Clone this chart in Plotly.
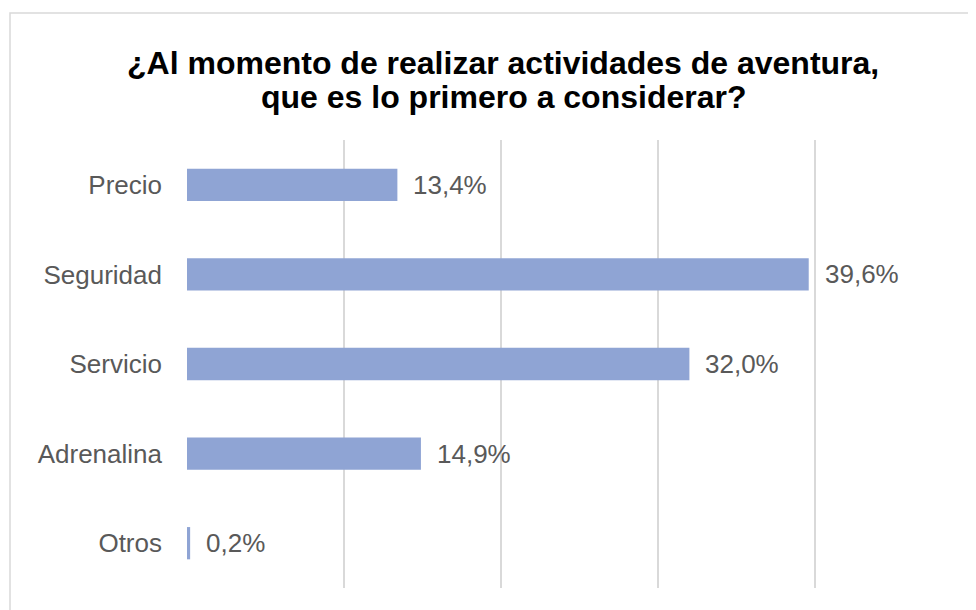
import plotly.graph_objects as go

categories = ["Precio", "Seguridad", "Servicio", "Adrenalina", "Otros"]
values = [13.4, 39.6, 32.0, 14.9, 0.2]
value_labels = ["13,4%", "39,6%", "32,0%", "14,9%", "0,2%"]
title_lines = ["¿Al momento de realizar actividades de aventura,",
               "que es lo primero a considerar?"]
x_ticks = [0, 10, 20, 30, 40, 50]

W, H = 976, 610
OFF = 8  # page body margin
L, R, T, B = 187 - OFF, 12, 140 - OFF, 30
pw = W - L - R
ph = H - T - B


def py(screen_y):
    return 1 + (T - (screen_y - OFF)) / ph


def px(screen_x):
    return (screen_x - OFF - L) / pw


fig = go.Figure()
fig.add_trace(go.Bar(
    y=categories, x=values, orientation="h",
    marker=dict(color="#8FA4D4", line=dict(width=0)),
    width=0.36, hoverinfo="skip",
))

for c, v, t in zip(categories, values, value_labels):
    fig.add_annotation(x=v, y=c, text=t, showarrow=False, xanchor="left",
                       yanchor="middle", xshift=14,
                       font=dict(family="Liberation Sans, Arial", size=26, color="#595959"))

for line, cy in zip(title_lines, [63, 97]):
    fig.add_annotation(xref="paper", yref="paper", x=px(503), y=py(cy),
                       text="<b>" + line + "</b>", showarrow=False,
                       xanchor="center", yanchor="middle",
                       font=dict(family="Liberation Sans, Arial", size=32, color="#000000"))

fig.add_shape(type="rect", xref="paper", yref="paper",
              x0=px(10), x1=1.2, y0=-0.2, y1=py(13),
              line=dict(color="#D9D9D9", width=1.5), layer="below")

fig.update_layout(
    width=W, height=H,
    margin=dict(l=L, r=R, t=T, b=B),
    paper_bgcolor="white", plot_bgcolor="white",
    showlegend=False,
    xaxis=dict(range=[0, 50], tickvals=x_ticks, showticklabels=False,
               showgrid=True, gridcolor="#D9D9D9", gridwidth=1.5,
               zeroline=False, showline=False, fixedrange=True),
    yaxis=dict(categoryorder="array", categoryarray=categories[::-1],
               showgrid=False, zeroline=False, showline=False, ticks="",
               ticklabelstandoff=24,
               tickfont=dict(family="Liberation Sans, Arial", size=26, color="#595959")),
)

fig.write_html("out.html")
